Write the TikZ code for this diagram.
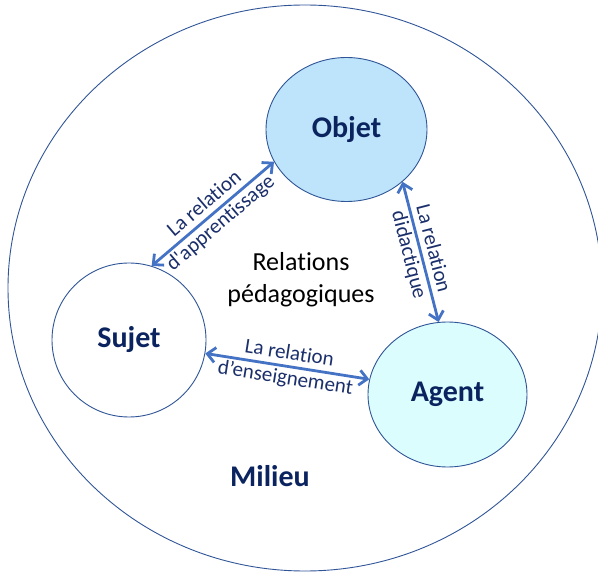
\documentclass[tikz,border=0pt]{standalone}
\usepackage{fontspec}
\setmainfont{Carlito}[Ligatures={TeX,NoCommon}]
\usetikzlibrary{shapes.geometric,arrows.meta}
\definecolor{navy}{HTML}{0B2460}
\definecolor{labnavy}{HTML}{1B2F6B}
\definecolor{edgeblue}{HTML}{2F5597}
\definecolor{arrowblue}{HTML}{4472C4}
\definecolor{objfill}{HTML}{BDE4FA}
\definecolor{agtfill}{HTML}{DCFDFE}
\tikzset{
  bubble/.style={ellipse, draw=edgeblue, line width=0.9pt, inner sep=0pt,
    text=navy, font=\fontsize{30}{36}\selectfont\bfseries},
  rel/.style={draw=arrowblue, line width=2.8pt,
    {Straight Barb[length=8pt,width=15pt]}-{Straight Barb[length=8pt,width=15pt]}},
  rellabel/.style={midway, sloped, align=center, text=labnavy,
    font=\fontsize{21}{25}\selectfont, inner sep=0pt}
}
\begin{document}
\begin{tikzpicture}[x=1pt,y=-1pt]
\useasboundingbox (0,0) rectangle (598,572);
\node[ellipse, draw=edgeblue, line width=0.9pt, minimum width=594pt, minimum height=566pt] (milieu) at (305,288) {};
\node[bubble, fill=objfill, minimum width=161pt, minimum height=144pt] (obj) at (346.5,129.5) {Objet};
\node[bubble, fill=white, minimum width=154pt, minimum height=154pt] (suj) at (129,340) {Sujet};
\node[bubble, fill=agtfill, minimum width=159pt, minimum height=145pt] (agt) at (447.5,394.5) {Agent};
\node[text=navy, font=\fontsize{30}{36}\selectfont\bfseries] (mil) at (270,476) {Milieu};
\node[align=center, font=\fontsize{26}{32}\selectfont] (ped) at (301,280) {Relations\\pédagogiques};
\draw[rel] (suj.73) -- (obj.204) node[rellabel] {La relation\\d\textquotesingle apprentissage};
\draw[rel] (obj.-43) -- (agt.97) node[rellabel] {La relation\\didactique};
\draw[rel] (suj.-10) -- (agt.169) node[rellabel] {La relation\\d’enseignement};
\end{tikzpicture}
\end{document}
